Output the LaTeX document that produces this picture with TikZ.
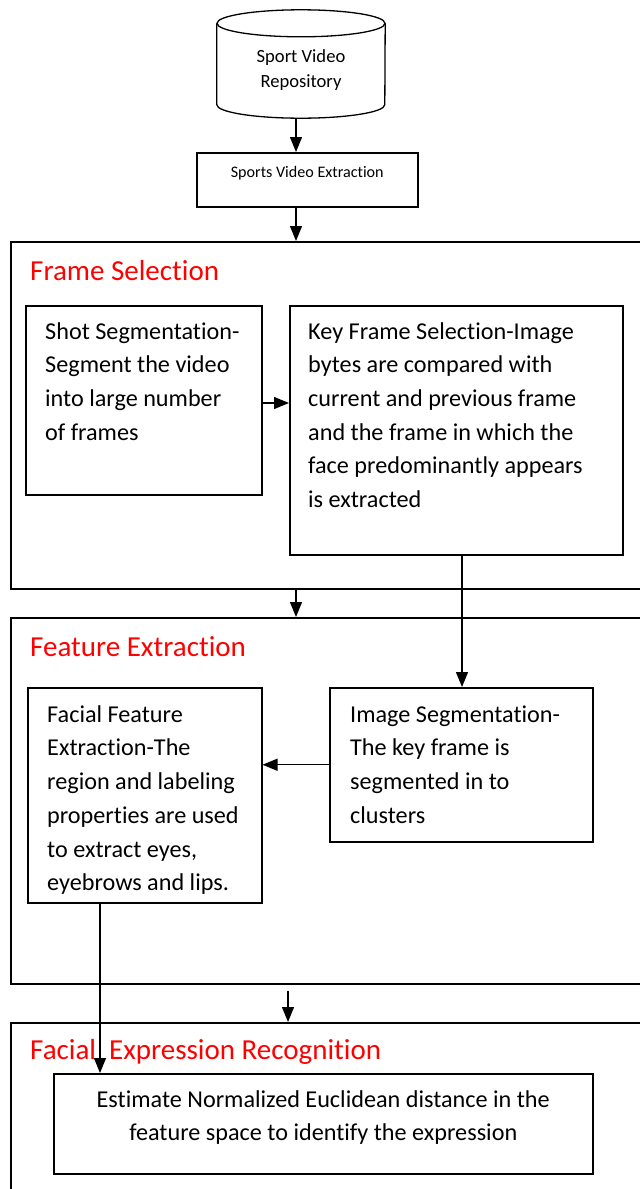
\documentclass[tikz,border=0pt]{standalone}
\usepackage{fontspec}
\setmainfont{Carlito}[Ligatures=NoCommon]
\usetikzlibrary{arrows.meta,calc}
\definecolor{titlered}{RGB}{255,0,0}

\begin{document}
\begin{tikzpicture}[x=1pt,y=-1pt,
  box/.style={draw,line width=1.5pt,anchor=north west,inner sep=0pt},
  txt/.style={inner sep=0pt,align=left,anchor=north west,font=\fontsize{24.2}{33.7}\selectfont},
  title/.style={inner sep=0pt,anchor=base west,text=titlered,font=\fontsize{29}{35}\selectfont},
  arr/.style={-{Triangle[length=15pt,width=12pt]},line width=1.3pt}]
  \clip (0,0) rectangle (640,1189);
  % repository
  \node[minimum width=168pt,minimum height=108pt,inner sep=0pt] (repo) at (301,64) {};
  \draw[line width=1.3pt] ($(repo.north west)+(0,13.5)$) -- ($(repo.south west)+(0,-13.5)$)
    arc[start angle=180,end angle=360,x radius=84pt,y radius=13.5pt] -- ($(repo.north east)+(0,13.5)$);
  \draw[line width=1.3pt] ($(repo.north)+(0,13.5)$) ellipse[x radius=84pt,y radius=13.5pt];
  \node[inner sep=0pt,align=center,anchor=north,font=\fontsize{18.6}{25}\selectfont] (repotext) at (301,44.5) {\strut Sport Video\\Repository};
  \node[box,minimum width=221pt,minimum height=54pt] (ext) at (196,152) {};
  \node[inner sep=0pt,anchor=base,font=\fontsize{16.1}{19}\selectfont] (exttext) at ($(ext.north)+(0,25)$) {Sports Video Extraction};
  % frame selection
  \node[box,minimum width=640pt,minimum height=347pt] (fs) at (10,241) {};
  \node[title] (fstitle) at ($(fs.north west)+(20,39)$) {Frame Selection};
  \node[box,minimum width=236pt,minimum height=189pt] (shot) at (25,305) {};
  \node[txt] (shottext) at ($(shot.north west)+(20,10.4)$) {\strut Shot Segmentation-\\Segment the video\\into large number\\of frames};
  \node[box,minimum width=333pt,minimum height=249pt] (key) at (289,305) {};
  \node[txt] (keytext) at ($(key.north west)+(19,10.4)$) {\strut Key Frame Selection-Image\\bytes are compared with\\current and previous frame\\and the frame in which the\\face predominantly appears\\is extracted};
  % feature extraction
  \node[box,minimum width=640pt,minimum height=366pt] (fe) at (10,617) {};
  \node[title] (fetitle) at ($(fe.north west)+(20,39)$) {Feature Extraction};
  \node[box,minimum width=234pt,minimum height=215pt] (facial) at (27,687) {};
  \node[txt] (facialtext) at ($(facial.north west)+(20,11.4)$) {\strut Facial Feature\\Extraction-The\\region and labeling\\properties are used\\to extract eyes,\\eyebrows and lips.};
  \node[box,minimum width=263pt,minimum height=154pt] (img) at (329,687) {};
  \node[txt] (imgtext) at ($(img.north west)+(21,11.4)$) {\strut Image Segmentation-\\The key frame is\\segmented in to\\clusters};
  % expression recognition
  \node[box,minimum width=640pt,minimum height=200pt] (fer) at (10,1022) {};
  \node[title] (fertitle) at ($(fer.north west)+(20,37)$) {Facial\ \ Expression Recognition};
  \node[box,minimum width=539pt,minimum height=100pt] (est) at (53,1073) {};
  \node[txt,align=center,anchor=north] (esttext) at ($(est.north)+(0,10.4)$) {\strut Estimate Normalized Euclidean distance in the\\feature space to identify the expression};
  \coordinate (gap) at (288,991);
  \draw[arr] (296,0 |- repo.south) -- (296,0 |- ext.north);
  \draw[arr] (296,0 |- ext.south) -- (296,0 |- fs.north);
  \draw[arr] (shot.east |- 0,403) -- (key.west |- 0,403);
  \draw[arr] (296,0 |- fs.south) -- (296,0 |- fe.north);
  \draw[arr] (462,0 |- key.south) -- (462,0 |- img.north);
  \draw[arr] (img.west) -- (img.west -| facial.east);
  \draw[arr] (gap) -- (gap |- fer.north);
  \draw[arr] (100,0 |- facial.south) -- (100,0 |- est.north);
\end{tikzpicture}
\end{document}
